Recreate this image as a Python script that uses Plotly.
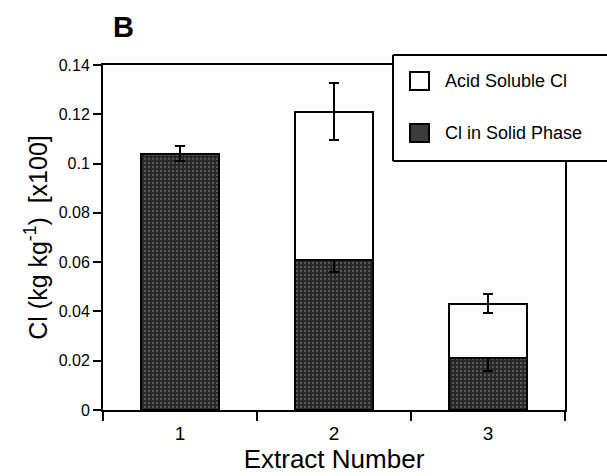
import plotly.graph_objects as go

extract = [1, 2, 3]
solid_phase = [0.104, 0.061, 0.0213]
solid_err = [0.003, 0.005, 0.0055]
acid_soluble = [0.0, 0.060, 0.0218]
acid_total_err = [0.0, 0.0115, 0.0038]
ytick_vals = [0, 0.02, 0.04, 0.06, 0.08, 0.1, 0.12, 0.14]
ytick_text = ["0", "0.02", "0.04", "0.06", "0.08", "0.1", "0.12", "0.14"]
xtick_text = ["1", "2", "3"]

FONT = "Liberation Sans, Arial, Helvetica, sans-serif"
DARK = "#3c3c3c"

fig = go.Figure()
fig.add_trace(go.Bar(
    x=extract, y=solid_phase, name="Cl in Solid Phase", width=0.51,
    marker=dict(color=DARK, line=dict(color="black", width=2),
                pattern=dict(shape=".", fgcolor="#8a8a8a", bgcolor="#262626", size=4, solidity=0.25)),
    error_y=dict(type="data", array=solid_err, color="black", thickness=2, width=5),
    showlegend=False,
))
fig.add_trace(go.Bar(
    x=extract, y=acid_soluble, name="Acid Soluble Cl", width=0.51,
    marker=dict(color="white", line=dict(color="black", width=2)),
    error_y=dict(type="data", array=acid_total_err, color="black", thickness=2, width=5),
    showlegend=False,
))

# Legend box (drawn manually, overlapping the frame and running off the right edge)
px = lambda v: (v - 103) / 462
py = lambda v: (410 - v) / 345
fig.add_shape(type="rect", xref="paper", yref="paper",
              x0=px(393), x1=px(607), y0=py(161), y1=py(55),
              line=dict(width=0), fillcolor="white", layer="above")
for (xa, ya, xb, yb) in [(393, 55, 607, 55), (393, 55, 393, 161), (393, 161, 607, 161)]:
    fig.add_shape(type="line", xref="paper", yref="paper",
                  x0=px(xa), y0=py(ya), x1=px(xb), y1=py(yb),
                  line=dict(color="black", width=2), layer="above")
for name, fill, yc in [("Acid Soluble Cl", "white", 81), ("Cl in Solid Phase", DARK, 133)]:
    fig.add_shape(type="rect", xref="paper", yref="paper",
                  x0=px(410), x1=px(429), y0=py(yc + 9), y1=py(yc - 9),
                  line=dict(color="black", width=2), fillcolor=fill, layer="above")
    fig.add_annotation(text=name, xref="paper", yref="paper",
                       x=px(443), y=py(yc),
                       xanchor="left", yanchor="middle", showarrow=False,
                       font=dict(size=18, color="black", family=FONT))

fig.add_annotation(text="<b>B</b>", xref="paper", yref="paper",
                   x=px(111), y=py(27),
                   xanchor="left", yanchor="middle", showarrow=False,
                   font=dict(size=29, color="black", family=FONT))

fig.update_layout(
    width=607, height=476,
    margin=dict(l=103, r=42, t=65, b=66),
    barmode="stack",
    paper_bgcolor="white", plot_bgcolor="white",
    font=dict(family=FONT, color="black"),
    xaxis=dict(
        range=[0.5, 3.5], tickvals=extract, ticktext=xtick_text, ticks="",
        tickfont=dict(size=19), ticklabelstandoff=5,
        showline=True, linecolor="black", linewidth=2,
        mirror=True, showgrid=False, zeroline=False,
        minor=dict(tickvals=[0.5, 1.5, 2.5, 3.5], ticks="outside", ticklen=9,
                   tickwidth=2, tickcolor="black", showgrid=False),
        title=dict(text="Extract Number", font=dict(size=26), standoff=0),
    ),
    yaxis=dict(
        range=[0, 0.14], tickvals=ytick_vals, ticktext=ytick_text,
        ticks="outside", ticklen=8, tickwidth=2, tickcolor="black",
        tickfont=dict(size=16), showline=True, linecolor="black", linewidth=2,
        mirror=True, showgrid=False, zeroline=False,
        title=dict(text="Cl (kg kg<sup>-1</sup>)  [x100]", font=dict(size=25), standoff=4),
    ),
)

fig.write_html("out.html")
